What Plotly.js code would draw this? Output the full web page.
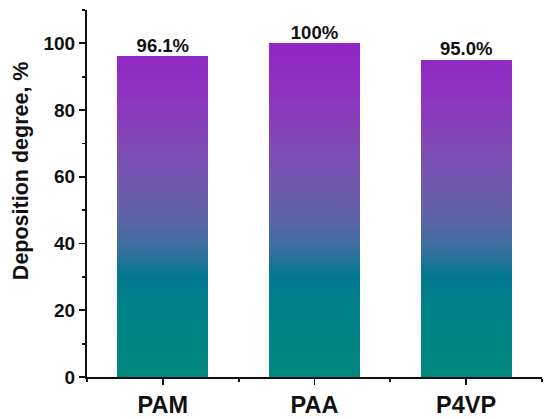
<!DOCTYPE html>
<html>
<head>
<meta charset="utf-8">
<script src="https://cdn.plot.ly/plotly-3.0.1.min.js"></script>
<style>html,body{margin:0;padding:0;background:#fff;}#chart{width:550px;height:419px;}</style>
</head>
<body>
<div id="chart"></div>
<script>
const categories = ['PAM', 'PAA', 'P4VP'];
const values = [96.1, 100, 95.0];
const valueLabels = ['96.1%', '100%', '95.0%'];
const yTickVals = [0, 20, 40, 60, 80, 100];

const xIdx = categories.map((c, i) => i);
const gradientScale = [
  [0.00, '#00897f'],
  [0.22, '#008088'],
  [0.30, '#007890'],
  [0.38, '#37709e'],
  [0.48, '#5f64a8'],
  [0.60, '#7556b0'],
  [0.75, '#8641b9'],
  [0.88, '#8f30c1'],
  [1.00, '#9424c6']
];

// Each bar is drawn as a stack of thin slices coloured by height (gradient fill)
const step = 1;
const maxV = Math.max(...values);
const traces = [];
for (let k = 0; k * step < maxV; k++) {
  const lo = k * step;
  const ys = values.map(v => Math.max(0, Math.min(step, v - lo)));
  const cols = ys.map(h => lo + h / 2);
  traces.push({
    type: 'bar',
    x: xIdx,
    y: ys,
    width: 0.6,
    marker: {color: cols, colorscale: gradientScale, cmin: 0, cmax: 100, line: {width: 0}},
    hoverinfo: 'skip',
    showlegend: false
  });
}
traces.push({
  type: 'scatter',
  mode: 'text',
  x: xIdx,
  y: values,
  text: valueLabels,
  textposition: 'top center',
  textfont: {family: 'Arial, Liberation Sans, sans-serif', size: 18.5, color: '#111', weight: 'bold'},
  cliponaxis: false,
  showlegend: false,
  hoverinfo: 'skip'
});

const layout = {
  width: 550,
  height: 419,
  margin: {l: 87, r: 8, t: 10, b: 42},
  paper_bgcolor: '#fff',
  plot_bgcolor: '#fff',
  barmode: 'stack',
  bargap: 0,
  showlegend: false,
  font: {family: 'Arial, Liberation Sans, sans-serif', color: '#111'},
  xaxis: {
    range: [-0.5, 2.5],
    tickmode: 'array',
    tickvals: xIdx,
    ticktext: categories,
    ticks: 'outside',
    ticklen: 6,
    tickwidth: 1.8,
    tickcolor: '#111',
    showline: true,
    linecolor: '#111',
    linewidth: 2,
    showgrid: false,
    zeroline: false,
    tickfont: {size: 23.5, weight: 'bold', color: '#111'},
    minor: {tickmode: 'array', tickvals: [-0.5, 0.5, 1.5, 2.5], ticks: 'outside', ticklen: 3, tickwidth: 1.8, tickcolor: '#111', showgrid: false},
    fixedrange: true
  },
  yaxis: {
    range: [0, 110],
    tickmode: 'array',
    tickvals: yTickVals,
    ticks: 'outside',
    ticklen: 6,
    tickwidth: 1.8,
    tickcolor: '#111',
    showline: true,
    linecolor: '#111',
    linewidth: 2,
    showgrid: false,
    zeroline: false,
    tickfont: {size: 19, weight: 'bold', color: '#111'},
    minor: {dtick: 10, tick0: 0, ticks: 'outside', ticklen: 3, tickwidth: 1.8, tickcolor: '#111', showgrid: false},
    fixedrange: true
  },
  annotations: [{
    text: 'Deposition degree, %',
    xref: 'paper', yref: 'paper',
    x: -0.145, y: 0.561,
    xanchor: 'center', yanchor: 'middle',
    textangle: -90,
    showarrow: false,
    font: {size: 21.5, weight: 'bold', color: '#111'}
  }]
};

Plotly.newPlot('chart', traces, layout, {displayModeBar: false, staticPlot: true});
</script>
</body>
</html>
